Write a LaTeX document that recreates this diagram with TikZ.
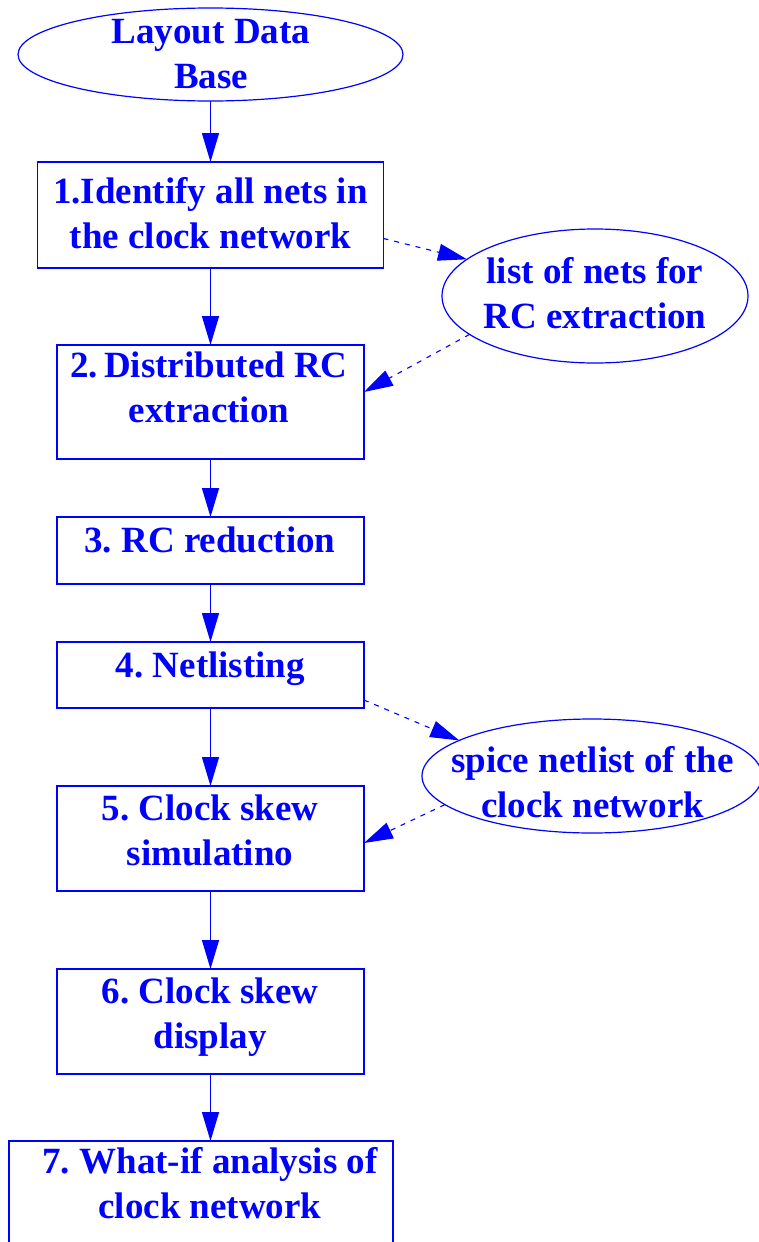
\documentclass[tikz,border=0pt]{standalone}
\usepackage{fontspec}
\setmainfont{Liberation Serif}
\usetikzlibrary{shapes.geometric,arrows.meta}
\frenchspacing
\begin{document}
\begin{tikzpicture}[x=1pt,y=-1pt,
  boxnode/.style={draw=blue, line width=1.3pt, rectangle, inner sep=0pt, outer sep=0pt},
  ellnode/.style={draw=blue, line width=1.2pt, ellipse, inner sep=0pt, outer sep=0pt},
  lbl/.style={text=blue, font=\bfseries\fontsize{37}{45}\selectfont, align=center, anchor=base, inner sep=0pt},
  flow/.style={draw=blue, line width=1.3pt, -{Triangle[length=29pt,width=17pt]}},
  data/.style={draw=blue, line width=1.1pt, dash pattern=on 5pt off 6pt, -{Triangle[length=29pt,width=17pt]}}
]
\useasboundingbox (0,0) rectangle (759,1242);

% shapes
\node[ellnode, minimum width=385pt, minimum height=93pt] (e1) at (210.5,54.5) {};
\node[boxnode, minimum width=346pt, minimum height=106pt] (b1) at (210.5,215) {};
\node[ellnode, minimum width=306pt, minimum height=134pt] (e2) at (595,296) {};
\node[boxnode, minimum width=307pt, minimum height=114pt] (b2) at (210.5,402) {};
\node[boxnode, minimum width=307pt, minimum height=67pt] (b3) at (210.5,550.5) {};
\node[boxnode, minimum width=307pt, minimum height=66pt] (b4) at (210.5,675) {};
\node[ellnode, minimum width=340pt, minimum height=114pt] (e3) at (592,776) {};
\node[boxnode, minimum width=307pt, minimum height=105pt] (b5) at (210.5,838.5) {};
\node[boxnode, minimum width=307pt, minimum height=105pt] (b6) at (210.5,1021.5) {};
\node[boxnode, minimum width=384pt, minimum height=112pt] (b7) at (201,1197) {};

% labels (base anchor = baseline of the last line)
\node[lbl] (t1) at (211,88) {Layout Data\\Base};
\node[lbl] (t2) at (210.5,248) {1.Identify all nets in\\the clock network};
\node[lbl] (t3) at (595,328) {list of nets for\\RC extraction};
\node[lbl] (t4) at (209,422) {2.\,Distributed RC\\extraction};
\node[lbl] (t5) at (210,552) {3. RC reduction};
\node[lbl] (t6) at (210.5,677) {4. Netlisting};
\node[lbl] (t7) at (592.5,817) {spice netlist of the\\clock network};
\node[lbl] (t8) at (210,865) {5. Clock skew\\simulatino};
\node[lbl] (t9) at (210,1048) {6. Clock skew\\display};
\node[lbl] (t10) at (210,1218) {7. What-if analysis of\\clock network};

% main flow
\draw[flow] (e1.south) -- (b1.north);
\draw[flow] (b1.south) -- (b2.north);
\draw[flow] (b2.south) -- (b3.north);
\draw[flow] (b3.south) -- (b4.north);
\draw[flow] (b4.south) -- (b5.north);
\draw[flow] (b5.south) -- (b6.north);
\draw[flow] (b6.south) -- (b6.south |- b7.north);

% data flow
\draw[data] ([yshift=-23.5pt]b1.east) -- (e2.164);
\draw[data] (e2.197) -- ([yshift=10pt]b2.east);
\draw[data] ([yshift=-25pt]b4.east) -- (e3.165);
\draw[data] (e3.191) -- ([yshift=-4.5pt]b5.east);
\end{tikzpicture}
\end{document}
